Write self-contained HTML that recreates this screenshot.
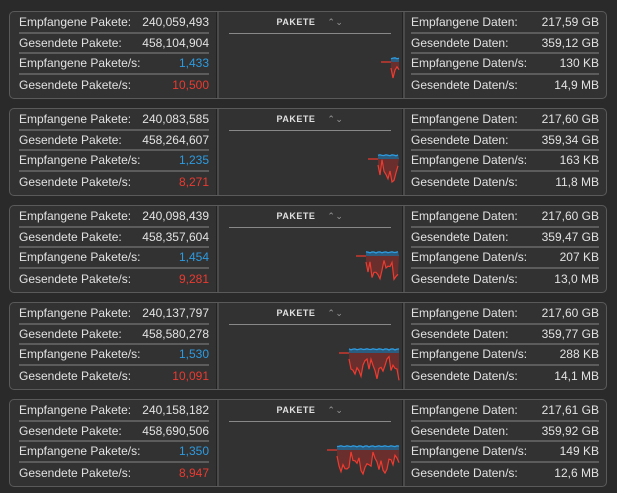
<!DOCTYPE html>
<html><head><meta charset="utf-8"><style>
body{margin:0;width:617px;height:493px;background:#2a2a2a;font-family:"Liberation Sans",sans-serif;overflow:hidden;position:relative}
.p{position:absolute;left:9px;width:596px;height:86px;border:1px solid #5a5a5a;border-radius:5px;background:#323232}
.d1,.d2{position:absolute;top:0;bottom:0;width:2px;background:#4a4a4a;border-left:1px solid #222}
.d1{left:206px}.d2{left:392px}
.rows{position:absolute;top:1px}
.r{height:20.5px;border-bottom:2px solid #5c5c5c;display:flex;justify-content:space-between;align-items:center;font-size:12px;color:#e2e2e2;box-sizing:border-box}
.r:last-child{border-bottom:none}
.L{left:9px;width:190px}.R{left:401px;width:188px}
.b{color:#2d9be0}.red{color:#ea3a30}
.t{position:absolute;left:219px;width:162px;top:5px;text-align:center;font-size:9px;font-weight:bold;color:#e0e0e0;letter-spacing:.5px}
.t span{color:#999;margin-left:12px;font-weight:normal}
.hl{position:absolute;left:219px;width:162px;top:21px;height:1px;background:#888}
svg{position:absolute;left:0;top:0}
</style></head><body>

<div class="p" style="top:11px"><div class="d1"></div><div class="d2"></div>
<div class="rows L"><div class="r"><span>Empfangene Pakete:</span><span>240,059,493</span></div><div class="r"><span>Gesendete Pakete:</span><span>458,104,904</span></div><div class="r"><span>Empfangene Pakete/s:</span><span class="b">1,433</span></div><div class="r"><span>Gesendete Pakete/s:</span><span class="red">10,500</span></div></div>
<div class="t">PAKETE<span>⌃⌄</span></div><div class="hl"></div>
<div class="rows R"><div class="r"><span>Empfangene Daten:</span><span>217,59 GB</span></div><div class="r"><span>Gesendete Daten:</span><span>359,12 GB</span></div><div class="r"><span>Empfangene Daten/s:</span><span>130 KB</span></div><div class="r"><span>Gesendete Daten/s:</span><span>14,9 MB</span></div></div>
<svg width="596" height="86" id="c0"></svg></div>

<div class="p" style="top:108px"><div class="d1"></div><div class="d2"></div>
<div class="rows L"><div class="r"><span>Empfangene Pakete:</span><span>240,083,585</span></div><div class="r"><span>Gesendete Pakete:</span><span>458,264,607</span></div><div class="r"><span>Empfangene Pakete/s:</span><span class="b">1,235</span></div><div class="r"><span>Gesendete Pakete/s:</span><span class="red">8,271</span></div></div>
<div class="t">PAKETE<span>⌃⌄</span></div><div class="hl"></div>
<div class="rows R"><div class="r"><span>Empfangene Daten:</span><span>217,60 GB</span></div><div class="r"><span>Gesendete Daten:</span><span>359,34 GB</span></div><div class="r"><span>Empfangene Daten/s:</span><span>163 KB</span></div><div class="r"><span>Gesendete Daten/s:</span><span>11,8 MB</span></div></div>
<svg width="596" height="86" id="c1"></svg></div>

<div class="p" style="top:205px"><div class="d1"></div><div class="d2"></div>
<div class="rows L"><div class="r"><span>Empfangene Pakete:</span><span>240,098,439</span></div><div class="r"><span>Gesendete Pakete:</span><span>458,357,604</span></div><div class="r"><span>Empfangene Pakete/s:</span><span class="b">1,454</span></div><div class="r"><span>Gesendete Pakete/s:</span><span class="red">9,281</span></div></div>
<div class="t">PAKETE<span>⌃⌄</span></div><div class="hl"></div>
<div class="rows R"><div class="r"><span>Empfangene Daten:</span><span>217,60 GB</span></div><div class="r"><span>Gesendete Daten:</span><span>359,47 GB</span></div><div class="r"><span>Empfangene Daten/s:</span><span>207 KB</span></div><div class="r"><span>Gesendete Daten/s:</span><span>13,0 MB</span></div></div>
<svg width="596" height="86" id="c2"></svg></div>

<div class="p" style="top:302px"><div class="d1"></div><div class="d2"></div>
<div class="rows L"><div class="r"><span>Empfangene Pakete:</span><span>240,137,797</span></div><div class="r"><span>Gesendete Pakete:</span><span>458,580,278</span></div><div class="r"><span>Empfangene Pakete/s:</span><span class="b">1,530</span></div><div class="r"><span>Gesendete Pakete/s:</span><span class="red">10,091</span></div></div>
<div class="t">PAKETE<span>⌃⌄</span></div><div class="hl"></div>
<div class="rows R"><div class="r"><span>Empfangene Daten:</span><span>217,60 GB</span></div><div class="r"><span>Gesendete Daten:</span><span>359,77 GB</span></div><div class="r"><span>Empfangene Daten/s:</span><span>288 KB</span></div><div class="r"><span>Gesendete Daten/s:</span><span>14,1 MB</span></div></div>
<svg width="596" height="86" id="c3"></svg></div>

<div class="p" style="top:399px"><div class="d1"></div><div class="d2"></div>
<div class="rows L"><div class="r"><span>Empfangene Pakete:</span><span>240,158,182</span></div><div class="r"><span>Gesendete Pakete:</span><span>458,690,506</span></div><div class="r"><span>Empfangene Pakete/s:</span><span class="b">1,350</span></div><div class="r"><span>Gesendete Pakete/s:</span><span class="red">8,947</span></div></div>
<div class="t">PAKETE<span>⌃⌄</span></div><div class="hl"></div>
<div class="rows R"><div class="r"><span>Empfangene Daten:</span><span>217,61 GB</span></div><div class="r"><span>Gesendete Daten:</span><span>359,92 GB</span></div><div class="r"><span>Empfangene Daten/s:</span><span>149 KB</span></div><div class="r"><span>Gesendete Daten/s:</span><span>12,6 MB</span></div></div>
<svg width="596" height="86" id="c4"></svg></div>

<script>
var starts=[381,368,356,339,327],end=389,base=50;
for(var i=0;i<5;i++){
 var s=starts[i],pts=[],bl=[];
 var seed=i*7+3;
 for(var x=s;x<=end;x+=2){
  var k=(x-s);
  var d=14+6*Math.sin(k*0.31+seed)+5*Math.sin(k*0.83+seed*2)+3*Math.sin(k*1.7+seed);
  if(k<3)d=6+k*5;
  pts.push(x+","+(base+d).toFixed(1));
  bl.push(x+","+(base-3-1.2*Math.abs(Math.sin(k*0.5+seed))).toFixed(1));
 }
 var poly=s+","+base+" "+pts.join(" ")+" "+end+","+base;
 document.getElementById("c"+i).innerHTML=
 '<line x1="'+(s-10)+'" y1="'+base+'" x2="'+end+'" y2="'+base+'" stroke="#e8392f" stroke-width="1.2"/>'+
 '<polygon points="'+poly+'" fill="#6a2e2c" stroke="none"/>'+
 '<polyline points="'+pts.join(" ")+'" fill="none" stroke="#ee3b30" stroke-width="1.2"/>'+
 '<polygon points="'+s+','+base+' '+bl.join(" ")+' '+end+','+base+'" fill="#2a5d80"/>'+
 '<polyline points="'+bl.join(" ")+'" fill="none" stroke="#2d9be0" stroke-width="1.3"/>';
}
</script>
</body></html>
